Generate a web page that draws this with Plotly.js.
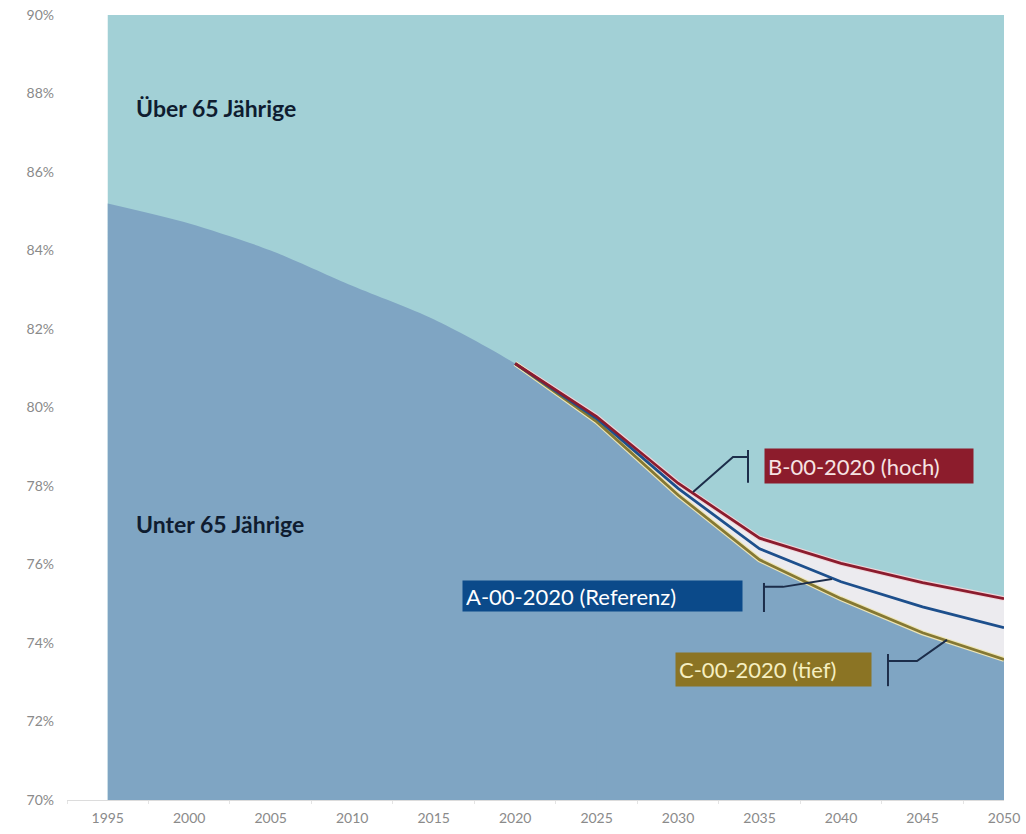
<!DOCTYPE html>
<html>
<head>
<meta charset="utf-8">
<script src="https://cdn.plot.ly/plotly-3.0.1.min.js"></script>
<style>html,body{margin:0;padding:0;background:#fff;}#chart{width:1026px;height:834px;}</style>
</head>
<body>
<div id="chart"></div>
<script>
// ---- data (percent of population) ----
const histYears = [1995, 2000, 2005, 2010, 2015, 2020];
const histUnter65 = [85.2, 84.69, 84.0, 83.1, 82.25, 81.12];
const scenYears = [2020, 2025, 2030, 2035, 2040, 2045, 2050];
const hoch = [81.12, 79.77, 78.07, 76.67, 76.03, 75.54, 75.13];      // B-00-2020
const referenz = [81.12, 79.72, 77.94, 76.40, 75.56, 74.92, 74.39];  // A-00-2020
const tief = [81.12, 79.64, 77.77, 76.12, 75.13, 74.26, 73.58];      // C-00-2020
const totalYears = [1995, 2050];
const total = [100, 100];
const tickYears = [1995, 2000, 2005, 2010, 2015, 2020, 2025, 2030, 2035, 2040, 2045, 2050];
const labelUeber = "Über 65 Jährige";
const labelUnter = "Unter 65 Jährige";
const labelB = "B-00-2020 (hoch)";
const labelA = "A-00-2020 (Referenz)";
const labelC = "C-00-2020 (tief)";

// history area continued to the first scenario step so the two fills join without a seam
const histFillX = histYears.concat([scenYears[1]]);
const histFillY = histUnter65.concat([tief[1]]);

const FONT = 'Lato, "Open Sans", sans-serif';
const cyan = '#a2d0d6', blue = '#7fa5c3', gap = '#ecebef';
const cB = '#8b1c2e', cA = '#1d4f8c', cC = '#857833';
const navy = '#1c2d4a';

const traces = [
  {x: totalYears, y: total, type: 'scatter', mode: 'lines', fill: 'tozeroy', fillcolor: cyan, line: {width: 0, color: cyan}},
  {x: scenYears, y: hoch, type: 'scatter', mode: 'lines', fill: 'tozeroy', fillcolor: gap, line: {width: 0, color: gap}},
  {x: scenYears, y: tief, type: 'scatter', mode: 'lines', fill: 'tozeroy', fillcolor: blue, line: {width: 0, color: blue}},
  {x: histFillX, y: histFillY, type: 'scatter', mode: 'lines', fill: 'tozeroy', fillcolor: blue, line: {width: 0, color: blue, shape: 'spline', smoothing: 0.8}},
  {x: scenYears, y: hoch, type: 'scatter', mode: 'lines', line: {color: '#f1d6da', width: 5}},
  {x: scenYears, y: tief, type: 'scatter', mode: 'lines', line: {color: '#efe6b6', width: 5}},
  {x: scenYears, y: tief, type: 'scatter', mode: 'lines', line: {color: cC, width: 2.8}},
  {x: scenYears, y: referenz, type: 'scatter', mode: 'lines', line: {color: cA, width: 2.8}},
  {x: scenYears, y: hoch, type: 'scatter', mode: 'lines', line: {color: cB, width: 2.8}}
];

const layout = {
  width: 1026, height: 834,
  margin: {l: 67, r: 22, t: 15, b: 34},
  paper_bgcolor: '#ffffff', plot_bgcolor: '#ffffff',
  showlegend: false, hovermode: false,
  font: {family: FONT},
  xaxis: {
    range: [1992.5, 2050], tickvals: tickYears, ticks: '', showgrid: false, zeroline: false,
    showline: true, linecolor: '#dcdcdc', linewidth: 1,
    tickfont: {family: FONT, size: 14, color: '#8a8a8a'}, ticklabelstandoff: 5,
    minor: {tick0: 1992.5, dtick: 5, ticks: 'outside', ticklen: 3, tickcolor: '#e4e4e4', showgrid: false}
  },
  yaxis: {
    range: [70, 90], dtick: 2, ticksuffix: '%', ticks: '', showgrid: false, zeroline: false, showline: false,
    tickfont: {family: FONT, size: 14, color: '#8a8a8a'}, ticklabelstandoff: 12
  },
  annotations: [
    {x: 1996.61, y: 87.63, xref: 'x', yref: 'y', text: '<b>' + labelUeber + '</b>', showarrow: false, xanchor: 'left', yanchor: 'middle', font: {family: FONT, size: 23, color: '#0f1c30'}},
    {x: 1996.61, y: 77.03, xref: 'x', yref: 'y', text: '<b>' + labelUnter + '</b>', showarrow: false, xanchor: 'left', yanchor: 'middle', font: {family: FONT, size: 23, color: '#0f1c30'}},
    {x: 2041.72, y: 78.51, xref: 'x', yref: 'y', text: labelB, showarrow: false, xanchor: 'center', yanchor: 'middle', align: 'left', width: 202, height: 28, borderpad: 3, bgcolor: '#8c1c2c', font: {family: FONT, size: 22, color: '#f6e3e3'}},
    {x: 2025.36, y: 75.20, xref: 'x', yref: 'y', text: labelA, showarrow: false, xanchor: 'center', yanchor: 'middle', align: 'left', width: 273, height: 24, borderpad: 3, bgcolor: '#0b4a8a', font: {family: FONT, size: 22, color: '#ffffff'}},
    {x: 2035.85, y: 73.33, xref: 'x', yref: 'y', text: labelC, showarrow: false, xanchor: 'center', yanchor: 'middle', align: 'left', width: 189, height: 27, borderpad: 3, bgcolor: '#8b7424', font: {family: FONT, size: 22, color: '#f6efc0'}}
  ],
  shapes: [
    {type: 'path', xref: 'x', yref: 'y', path: 'M 2030.92 77.85 L 2033.37 78.74 L 2034.29 78.74', line: {color: navy, width: 2}},
    {type: 'line', xref: 'x', yref: 'y', x0: 2034.29, x1: 2034.29, y0: 78.92, y1: 78.08, line: {color: navy, width: 2}},
    {type: 'path', xref: 'x', yref: 'y', path: 'M 2035.27 75.43 L 2036.44 75.43 L 2039.44 75.63', line: {color: navy, width: 2}},
    {type: 'line', xref: 'x', yref: 'y', x0: 2035.27, x1: 2035.27, y0: 75.53, y1: 74.79, line: {color: navy, width: 2}},
    {type: 'path', xref: 'x', yref: 'y', path: 'M 2042.88 73.54 L 2044.66 73.54 L 2046.50 74.08', line: {color: navy, width: 2}},
    {type: 'line', xref: 'x', yref: 'y', x0: 2042.88, x1: 2042.88, y0: 73.72, y1: 72.90, line: {color: navy, width: 2}}
  ]
};

Plotly.newPlot('chart', traces, layout, {displayModeBar: false, staticPlot: true});
</script>
</body>
</html>
